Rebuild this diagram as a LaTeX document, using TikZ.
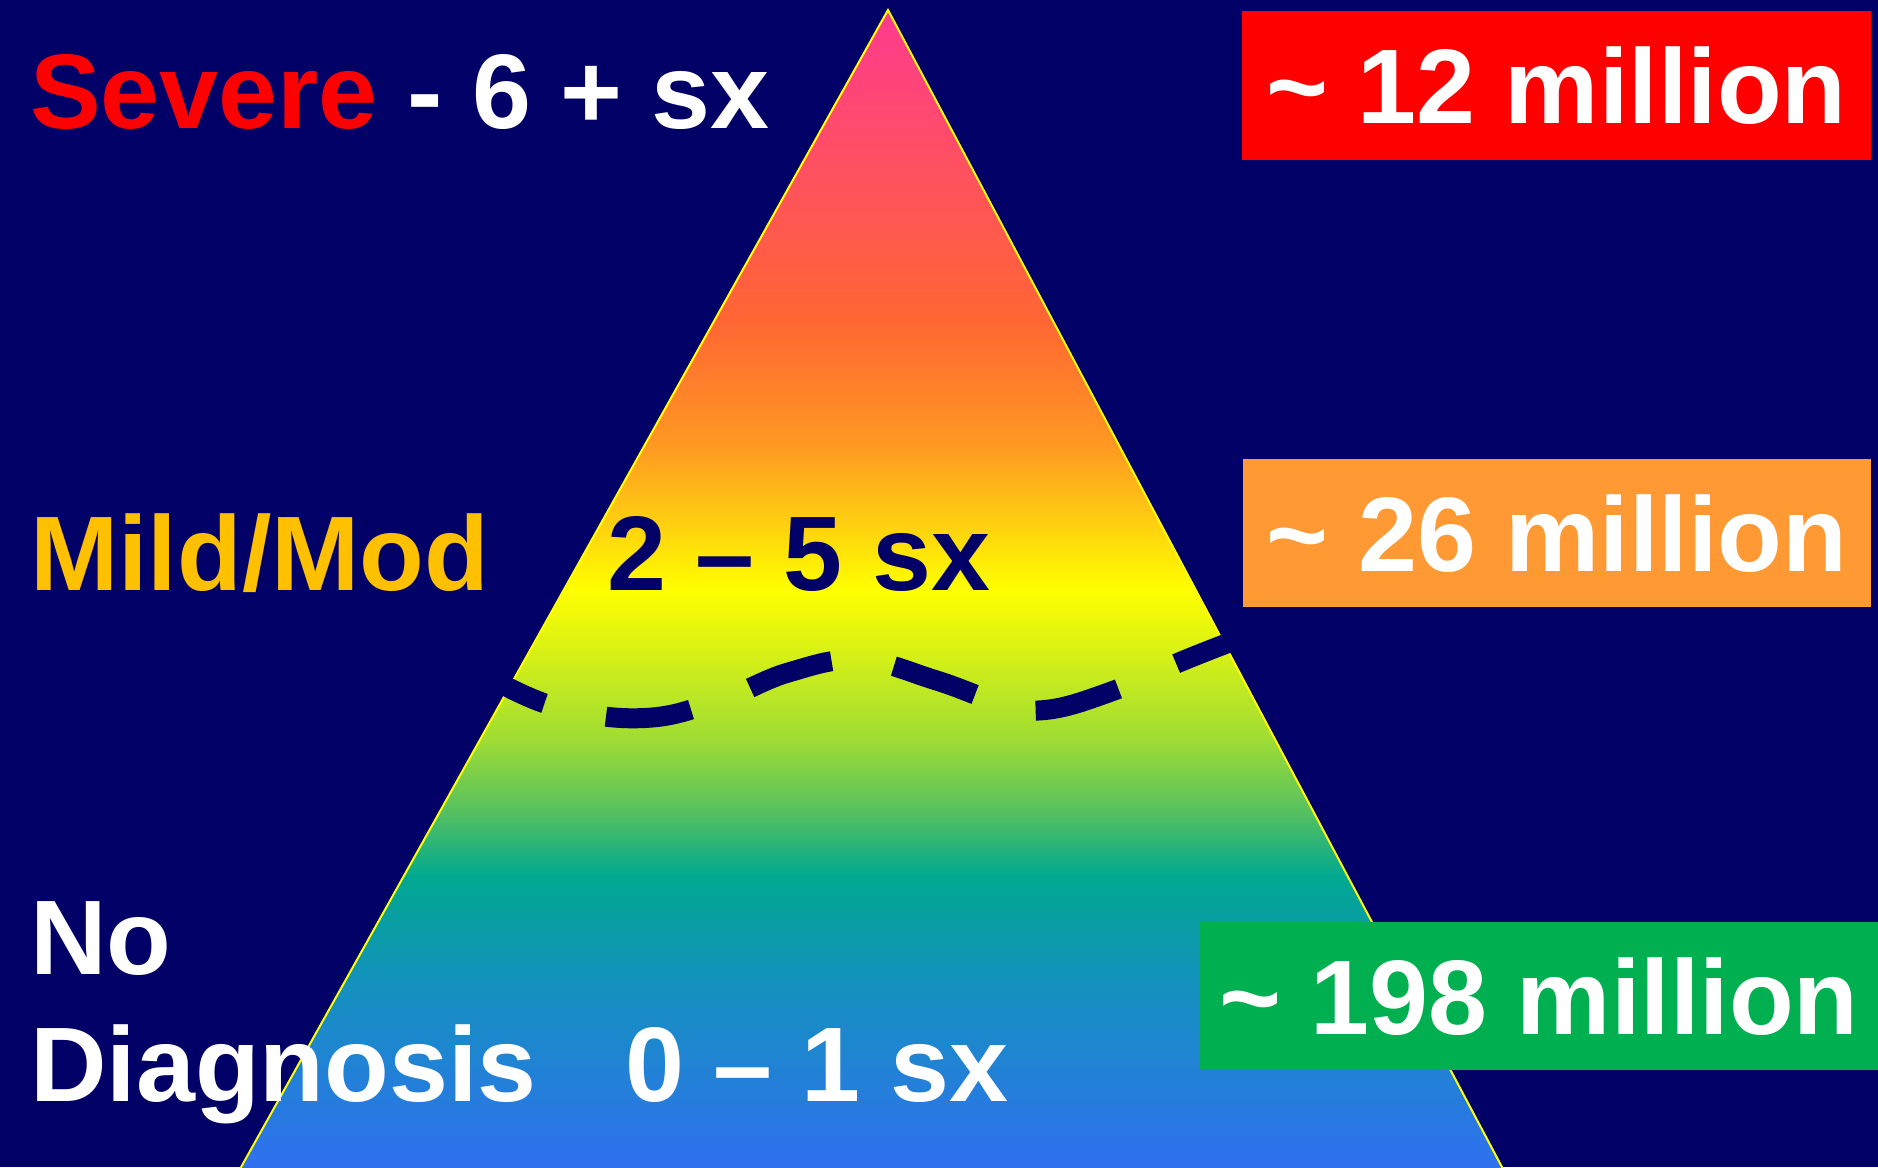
\documentclass[tikz,border=0pt]{standalone}
\usepackage{fontspec}
\setmainfont{Liberation Sans}
\usepackage{xcolor}
\usetikzlibrary{positioning}
\definecolor{navy}{RGB}{0,0,102}
\definecolor{gold}{RGB}{255,192,0}
\definecolor{boxred}{RGB}{255,0,0}
\definecolor{boxorange}{RGB}{255,153,51}
\definecolor{boxgreen}{RGB}{0,176,80}
\definecolor{pyrblue}{RGB}{48,112,240}
\definecolor{pyrsea}{RGB}{20,145,190}
\definecolor{pyrteal}{RGB}{0,168,144}
\definecolor{pyrgreen}{RGB}{85,192,96}
\definecolor{pyrlime}{RGB}{160,221,51}
\definecolor{pyryellow}{RGB}{255,255,0}
\definecolor{pyrorange}{RGB}{255,153,34}
\definecolor{pyrcoral}{RGB}{255,102,51}
\definecolor{pyrpink}{RGB}{255,58,143}
\pgfdeclareverticalshading{pyramid}{100bp}{color(0bp)=(pyrblue); color(25bp)=(pyrblue);
  color(33bp)=(pyrsea); color(37.6bp)=(pyrteal); color(40.4bp)=(pyrgreen);
  color(43.6bp)=(pyrlime); color(50bp)=(pyryellow); color(56.15bp)=(pyrorange);
  color(61.6bp)=(pyrcoral); color(75bp)=(pyrpink); color(100bp)=(pyrpink)}
\newcommand{\bigtype}{\fontsize{106}{127}\selectfont\bfseries}

\begin{document}
\begin{tikzpicture}[
  x=1pt,y=-1pt,
  lbl/.style={font=\bigtype,text=white,inner sep=0pt,anchor=base west},
  countbox/.style={font=\bigtype,text=white,inner sep=0pt,text depth=0pt,minimum height=148pt},
  wave/.style={draw=navy,line width=20pt,dash pattern=on 86pt off 63pt,dash phase=37pt}]
  \fill[navy] (0,0) rectangle (1878,1167);
  \useasboundingbox (0,0) rectangle (1878,1167);
  % pyramid
  \coordinate (apex) at (888,10);
  \coordinate (baseR) at (1503,1169);
  \coordinate (baseL) at (240,1169);
  \shadedraw[shading=pyramid,draw=pyryellow,line width=2pt] (apex)--(baseR)--(baseL)--cycle;
  \draw[wave] plot[smooth,tension=0.7] coordinates {(500,683) (560,708) (645,718) (720,700)
    (790,672) (860,660) (935,680) (1000,703) (1045,710) (1110,692) (1180,662) (1228,643)};
  % left labels
  \node[lbl] (severe) at (30,128) {\textcolor{boxred}{Severe} - 6 + sx};
  \node[lbl,text=gold] (mild) at (30,590) {Mild/Mod};
  \node[lbl,text=navy] (mildsx) at (607,590) {2 \textendash{} 5 sx};
  \node[lbl] (no) at (30,974) {No};
  \node[lbl] (diag) at (30,1101) {Diagnosis};
  \node[lbl] (nosx) at (625,1101) {0 \textendash{} 1 sx};
  % counts
  \node[countbox,fill=boxred,minimum width=629pt,minimum height=149pt] (sev) at (1556.5,85.5) {\textasciitilde{} 12 million};
  \node[countbox,fill=boxorange,minimum width=628pt] (mod) at (1557,533) {\textasciitilde{} 26 million};
  \node[countbox,fill=boxgreen,minimum width=678pt] (none) at (1539,996) {\textasciitilde{} 198 million};
\end{tikzpicture}
\end{document}
